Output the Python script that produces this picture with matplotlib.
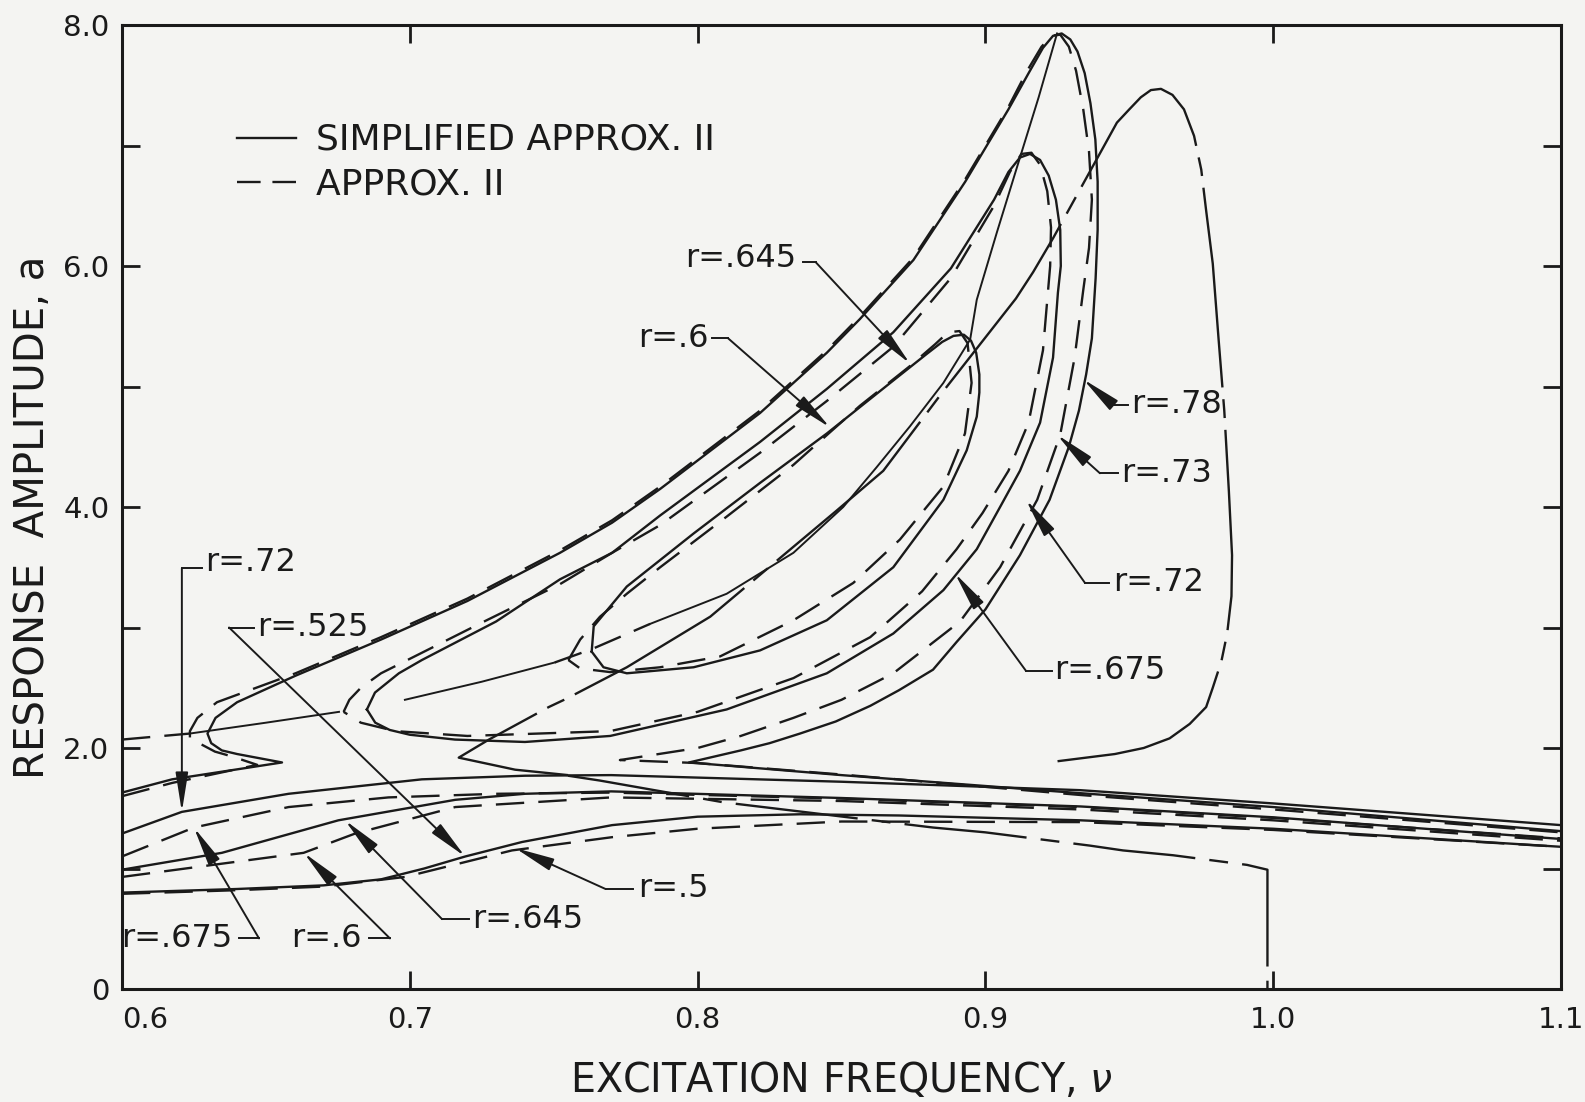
import numpy as np
import matplotlib
matplotlib.use("Agg")
import matplotlib.pyplot as plt
from matplotlib.ticker import FixedLocator, FuncFormatter

nan = np.nan
# ---------------- data (nu, a) ----------------
# outer loop, simplified approx II (solid)
L1S_v = [0.600, 0.6174, 0.6556, 0.640, 0.6347, 0.631, 0.6297, 0.6325, 0.640, 0.6603, 0.690, 0.720, 0.7522, 0.7703,
         0.787, 0.8217, 0.8449, 0.8564, 0.875, 0.893, 0.908, 0.915, 0.920, 0.9235, 0.9265, 0.9295, 0.932, 0.9345,
         0.9365, 0.9382, 0.9390, 0.9390, 0.9383, 0.937, 0.935, 0.9325, 0.929, 0.9223, 0.912, 0.900, 0.890, 0.8818,
         0.870, 0.860, 0.848, 0.8356, 0.825, 0.815, 0.797, 0.850, 0.933, 1.000, 1.100]
L1S_a = [1.63, 1.74, 1.88, 1.95, 1.98, 2.04, 2.12, 2.25, 2.38, 2.60, 2.90, 3.22, 3.62, 3.87,
         4.15, 4.78, 5.28, 5.56, 6.05, 6.70, 7.30, 7.60, 7.81, 7.91, 7.93, 7.88, 7.78, 7.60,
         7.35, 7.05, 6.70, 6.30, 5.90, 5.40, 5.10, 4.80, 4.50, 4.06, 3.60, 3.15, 2.88, 2.65,
         2.48, 2.35, 2.22, 2.12, 2.04, 1.98, 1.88, 1.775, 1.625, 1.51, 1.31]
# outer loop, approx II (dashed)
L1D_v = [0.600, 0.6174, 0.647, 0.6382, 0.6323, 0.6236, 0.6236, 0.6262, 0.633, 0.6603, 0.690, 0.720, 0.7522, 0.7703,
         0.787, 0.8217, 0.8449, 0.8564, 0.875, 0.893, 0.908, 0.9145, 0.9195, 0.9230, 0.9260, 0.9290, 0.9315,
         0.9340, 0.9360, 0.9370, 0.9360, 0.934, 0.931, 0.926, 0.918, 0.9051, 0.8912, 0.868, 0.850, 0.8333,
         0.815, 0.800, 0.773, 0.800, 0.850, 0.933, 1.000, 1.100]
L1D_a = [1.60, 1.71, 1.86, 1.93, 1.97, 2.08, 2.14, 2.25, 2.38, 2.62, 2.92, 3.24, 3.64, 3.89,
         4.17, 4.80, 5.30, 5.58, 6.07, 6.72, 7.32, 7.62, 7.82, 7.91, 7.92, 7.82, 7.62,
         7.30, 6.95, 6.55, 6.15, 5.80, 5.24, 4.60, 4.06, 3.50, 3.05, 2.62, 2.40, 2.25,
         2.10, 2.00, 1.90, 1.875, 1.78, 1.61, 1.49, 1.30]
# second loop
L2S_v = [0.6851, 0.6879, 0.6962, 0.7042, 0.730, 0.7522, 0.7703, 0.787, 0.8217, 0.8449, 0.868, 0.888, 0.903, 0.908,
         0.912, 0.9155, 0.919, 0.922, 0.9245, 0.926, 0.9262, 0.9252, 0.9235, 0.919, 0.912, 0.9051, 0.897, 0.8854,
         0.868, 0.8449, 0.8101, 0.7696, 0.740, 0.7157, 0.700, 0.693, 0.688, 0.6851]
L2S_a = [2.32, 2.46, 2.62, 2.73, 3.05, 3.40, 3.62, 3.93, 4.54, 4.98, 5.45, 5.98, 6.55, 6.78,
         6.90, 6.93, 6.88, 6.75, 6.55, 6.30, 6.00, 5.78, 5.24, 4.70, 4.30, 4.00, 3.65, 3.31,
         2.95, 2.62, 2.32, 2.10, 2.05, 2.07, 2.11, 2.15, 2.21, 2.32]
L2D_v = [0.677, 0.679, 0.683, 0.690, 0.700, 0.725, 0.7522, 0.7703, 0.787, 0.8217, 0.8449, 0.868, 0.888, 0.903,
         0.9085, 0.9125, 0.9160, 0.9190, 0.9215, 0.9228, 0.9225, 0.920, 0.915, 0.908, 0.899, 0.890, 0.878,
         0.860, 0.8333, 0.800, 0.7696, 0.720, 0.695, 0.683, 0.677]
L2D_a = [2.30, 2.40, 2.50, 2.62, 2.74, 3.04, 3.36, 3.62, 3.85, 4.45, 4.88, 5.33, 5.90, 6.50,
         6.78, 6.93, 6.94, 6.84, 6.62, 6.32, 6.00, 5.30, 4.70, 4.30, 3.95, 3.65, 3.30,
         2.92, 2.58, 2.30, 2.14, 2.10, 2.14, 2.21, 2.30]
# third (small) loop
L3S_v = [0.7632, 0.7639, 0.7754, 0.7986, 0.8217, 0.8449, 0.868, 0.8796, 0.8850, 0.8889, 0.8925, 0.8950, 0.8968,
         0.8979, 0.8979, 0.897, 0.8935, 0.8854, 0.868, 0.8449, 0.8217, 0.7986, 0.7754, 0.7673, 0.7632]
L3S_a = [2.80, 3.01, 3.34, 3.78, 4.20, 4.61, 5.05, 5.27, 5.37, 5.42, 5.43, 5.38, 5.28,
         5.10, 4.95, 4.75, 4.47, 4.06, 3.50, 3.06, 2.81, 2.67, 2.62, 2.67, 2.80]
L3D_v = [0.7551, 0.7592, 0.7661, 0.7754, 0.787, 0.8101, 0.8333, 0.846, 0.8564, 0.8738, 0.8825, 0.8870, 0.8910,
         0.8938, 0.8952, 0.8929, 0.8854, 0.8703, 0.8541, 0.8333, 0.8078, 0.787, 0.7696, 0.7592, 0.7551]
L3D_a = [2.73, 2.90, 3.09, 3.28, 3.50, 3.92, 4.35, 4.62, 4.84, 5.17, 5.35, 5.45, 5.46,
         5.36, 5.03, 4.61, 4.17, 3.73, 3.37, 3.06, 2.76, 2.67, 2.63, 2.66, 2.73]
# thin middle (backbone) line
BBS_v = [0.6236, 0.650, 0.6754, nan, 0.6983, 0.725, 0.7504, nan, 0.7835, 0.8101, 0.8333, 0.8506, 0.8622, 0.8738,
         0.8854, 0.8947, 0.897, 0.904, 0.9124, 0.9185, 0.9249]
BBS_a = [2.12, 2.21, 2.30, nan, 2.40, 2.55, 2.71, nan, 3.03, 3.28, 3.62, 4.00, 4.33, 4.67,
         5.03, 5.39, 5.72, 6.28, 6.93, 7.40, 7.93]
BBD_v = [0.600, 0.6236, nan, 0.7504, 0.7632, 0.7835]
BBD_a = [2.07, 2.12, nan, 2.71, 2.82, 3.03]
# far right response curve (long-short dashes)
F0_v = [0.755, 0.7366, 0.717, 0.7275, 0.7483, 0.7545, 0.7754, 0.8044, 0.8333, 0.8483, 0.8645, 0.885, 0.9106,
        0.9166, 0.9235, 0.9457, 0.950, 0.954, 0.9575, 0.961, 0.965, 0.969, 0.9725, 0.975, 0.9767, 0.979,
        0.981, 0.983, 0.9846, 0.9857, 0.9855, 0.9840, 0.982, 0.979, 0.9767, 0.971, 0.964, 0.955, 0.945,
        0.935, 0.925]
F0_a = [1.775, 1.82, 1.92, 2.07, 2.34, 2.41, 2.67, 3.09, 3.67, 3.97, 4.30, 4.95, 5.73,
        5.95, 6.23, 7.19, 7.30, 7.40, 7.46, 7.47, 7.42, 7.30, 7.08, 6.80, 6.46, 6.02,
        5.40, 4.80, 4.13, 3.60, 3.26, 2.95, 2.72, 2.50, 2.34, 2.20, 2.08, 2.00, 1.95,
        1.92, 1.89]
# descending long-short dashed line ending at nu = 1
DD_v = [0.755, 0.766, 0.8088, 0.8262, 0.8818, 0.900, 0.9363, 0.9478, 0.9652, 0.9909, 0.998, 0.998]
DD_a = [1.77, 1.73, 1.55, 1.50, 1.34, 1.30, 1.19, 1.15, 1.11, 1.03, 0.99, 0.0]
# lower branches
LA_v = [0.600, 0.6208, 0.6579, 0.7042, 0.740, 0.770, 0.850, 0.933, 1.000, 1.100]
LA_a = [1.29, 1.47, 1.62, 1.74, 1.77, 1.775, 1.72, 1.65, 1.54, 1.36]
LB_v = [0.600, 0.625, 0.6579, 0.6926, 0.730, 0.770, 0.850, 0.933, 1.000, 1.100]
LB_a = [1.10, 1.34, 1.51, 1.59, 1.62, 1.63, 1.58, 1.51, 1.42, 1.25]
LC_v = [0.600, 0.6347, 0.6752, 0.7158, 0.740, 0.770, 0.850, 0.933, 1.000, 1.100]
LC_a = [0.99, 1.13, 1.40, 1.57, 1.62, 1.64, 1.585, 1.515, 1.425, 1.245]
LD_v = [0.600, 0.6631, 0.681, 0.7158, 0.770, 0.850, 0.933, 1.000, 1.100]
LD_a = [0.93, 1.13, 1.29, 1.51, 1.59, 1.56, 1.49, 1.40, 1.23]
LE_S_v = [0.600, 0.640, 0.670, 0.690, 0.705, 0.7193, 0.739, 0.7703, 0.800, 0.8356, 0.870, 0.933, 1.000, 1.100]
LE_S_a = [0.80, 0.83, 0.86, 0.91, 1.00, 1.10, 1.22, 1.36, 1.43, 1.45, 1.44, 1.40, 1.33, 1.18]
LE_D_v = [0.600, 0.640, 0.670, 0.6984, 0.7355, 0.7703, 0.800, 0.850, 0.933, 1.000, 1.100]
LE_D_a = [0.79, 0.82, 0.85, 0.93, 1.15, 1.26, 1.33, 1.39, 1.385, 1.32, 1.18]

# labels: (text, text position, hook x-range, arrow start, arrow tip, ha)
labels = [
    ("r=.645", (0.8342, 6.06), (0.8366, 0.8411), (0.8411, 6.03), (0.8738, 5.19), "right"),
    ("r=.6",   (0.8040, 5.40), (0.8050, 0.8106), (0.8106, 5.40), (0.8460, 4.66), "right"),
    ("r=.78",  (0.9505, 4.85), (0.9497, 0.9443), (0.9443, 4.85), (0.9340, 5.06), "left"),
    ("r=.73",  (0.9472, 4.28), (0.9461, 0.9398), (0.9398, 4.28), (0.9249, 4.60), "left"),
    ("r=.72",  (0.9445, 3.37), (0.9428, 0.9346), (0.9346, 3.37), (0.9141, 4.06), "left"),
    ("r=.675", (0.9240, 2.64), (0.9232, 0.9141), (0.9141, 2.64), (0.8894, 3.45), "left"),
    ("r=.525", (0.6469, 3.00), (0.6459, 0.6372), (0.6372, 3.00), (0.7192, 1.10), "left"),
    ("r=.675", (0.6385, 0.42), (0.6407, 0.6476), (0.6476, 0.42), (0.6250, 1.34), "right"),
    ("r=.6",   (0.6834, 0.42), (0.6858, 0.6931), (0.6931, 0.42), (0.6632, 1.13), "right"),
    ("r=.645", (0.7216, 0.58), (0.7206, 0.7112), (0.7112, 0.58), (0.6775, 1.40), "left"),
    ("r=.5",   (0.7795, 0.83), (0.7776, 0.7680), (0.7680, 0.83), (0.7366, 1.17), "left"),
]

# ---------------- figure ----------------
INK = "#1a1a1a"
BG = "#f4f4f2"
plt.rcParams['font.family'] = ['DejaVu Sans']
fig = plt.figure(figsize=(15.85, 11.02), dpi=100, facecolor=BG)
ax = fig.add_axes([0.07697, 0.10254, 0.98486 - 0.07697, 0.97731 - 0.10254], facecolor=BG)

LW = 1.7
DASH = (0, (12, 6))
sol = dict(color=INK, lw=LW, ls='-', solid_joinstyle='round')
dsh = dict(color=INK, lw=LW, ls=DASH)
lsd_far = dict(color=INK, lw=LW, ls=(0, (85, 5, 8, 5)))
lsd = dict(color=INK, lw=LW, ls=(0, (52, 6, 8, 6)))

ax.plot(L1S_v, L1S_a, **sol)
ax.plot(L1D_v, L1D_a, **dsh)
ax.plot(L2S_v, L2S_a, **sol)
ax.plot(L2D_v, L2D_a, **dsh)
ax.plot(L3S_v, L3S_a, **sol)
ax.plot(L3D_v, L3D_a, **dsh)
ax.plot(BBS_v, BBS_a, color=INK, lw=1.4)
ax.plot(BBD_v, BBD_a, **dsh)
ax.plot(F0_v, F0_a, **lsd_far)
ax.plot(DD_v, DD_a, **lsd)
ax.plot(LA_v, LA_a, **sol)
ax.plot(LB_v, LB_a, **dsh)
ax.plot(LC_v, LC_a, **sol)
ax.plot(LD_v, LD_a, **dsh)
ax.plot(LE_S_v, LE_S_a, **sol)
ax.plot(LE_D_v, LE_D_a, **dsh)

# legend drawn as in the original
ax.plot([0.640, 0.6605], [7.06, 7.06], **sol)
ax.plot([0.640, 0.6605], [6.70, 6.70], color=INK, lw=LW, ls=(0, (10, 5)))
ax.text(0.6674, 7.05, "SIMPLIFIED APPROX. II", fontsize=26, va='center', ha='left', color=INK)
ax.text(0.6674, 6.68, "APPROX. II", fontsize=26, va='center', ha='left', color=INK)

# r labels with leaders and arrows
arrow_kw = dict(arrowstyle='-|>,head_length=1.0,head_width=0.16', mutation_scale=24, lw=1.4,
                color=INK, shrinkA=0, shrinkB=0)
for txt, tpos, hook, start, tip, ha in labels:
    ax.text(tpos[0], tpos[1], txt, fontsize=23, va='center', ha=ha, color=INK)
    ax.plot([hook[0], hook[1]], [start[1], start[1]], color=INK, lw=1.4)
    ax.annotate("", xy=tip, xytext=start, arrowprops=arrow_kw)
# r=.72 on the left: bracket then vertical arrow
ax.text(0.6288, 3.54, "r=.72", fontsize=23, va='center', ha='left', color=INK)
ax.plot([0.6208, 0.6278], [3.49, 3.49], color=INK, lw=1.4)
ax.annotate("", xy=(0.6208, 1.47), xytext=(0.6208, 3.49), arrowprops=arrow_kw)

# axes styling
ax.set_xlim(0.6, 1.1)
ax.set_ylim(0, 8)
ax.xaxis.set_major_locator(FixedLocator([0.6, 0.7, 0.8, 0.9, 1.0, 1.1]))
ax.yaxis.set_major_locator(FixedLocator([0, 1, 2, 3, 4, 5, 6, 7, 8]))
ax.xaxis.set_major_formatter(FuncFormatter(lambda x, p: f"{x:.1f}"))
ylab = {0: "0", 2: "2.0", 4: "4.0", 6: "6.0", 8: "8.0"}
ax.yaxis.set_major_formatter(FuncFormatter(lambda y, p: ylab.get(int(round(y)), "")))
ax.tick_params(direction='in', length=13, width=2, top=True, right=True, colors=INK,
               labelsize=21)
ax.tick_params(axis='x', pad=12)
ax.tick_params(axis='y', pad=9)
for s in ax.spines.values():
    s.set_linewidth(2.2)
    s.set_color(INK)

ax.set_xlabel("EXCITATION FREQUENCY, $\\nu$", fontsize=28.5, color=INK, va='center')
ax.xaxis.set_label_coords(0.5, -0.095)
ax.set_ylabel("RESPONSE  AMPLITUDE, a", fontsize=29, color=INK, va='center', ha='center')
ax.yaxis.set_label_coords(-0.062, 0.489)

fig.canvas.draw()
xt = ax.get_xticklabels()
xt[0].set_ha('left')

fig.savefig("out.png", dpi=100, facecolor=BG)
